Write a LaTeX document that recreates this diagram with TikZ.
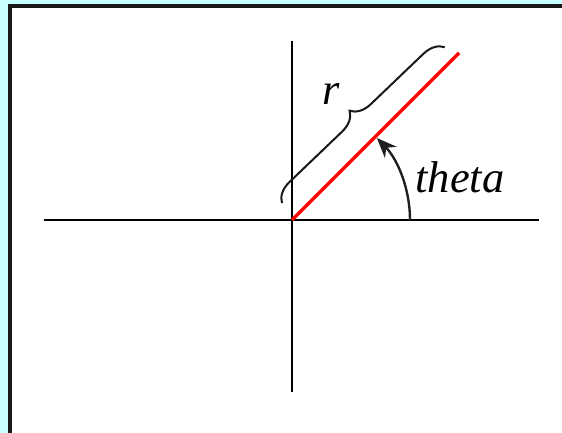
\documentclass[tikz,border=0pt]{standalone}
\usepackage{fontspec}
\setmainfont{Liberation Serif}
\usepackage{xcolor}
\usetikzlibrary{arrows.meta,decorations.pathreplacing}

\definecolor{bgcyan}{HTML}{C8FFFF}

\begin{document}
\begin{tikzpicture}[
    x=0.4pt, y=0.4pt,
    axis/.style={line width=0.95pt, black},
    radius line/.style={line width=1.4pt, red},
    angle arrow/.style={-{Stealth[length=8pt, width=6.5pt]}, line width=0.95pt, black!88},
    brace line/.style={decorate, decoration={brace, amplitude=8pt}, line width=0.8pt, black!90},
    label/.style={font=\fontsize{17.8}{20}\selectfont\itshape, inner sep=0pt}
]
\useasboundingbox (0,0) rectangle (562,433);
\fill[bgcyan] (0,0) rectangle (562,433);
% panel, open to the right and below
\fill[white] (10,0) rectangle (562,427);
\draw[draw=black!90, line width=1.4pt] (10,0) -- (10,427) -- (562,427);

% axes
\coordinate (O) at (292,213);
\coordinate (xl) at (44,213);
\coordinate (xr) at (539,213);
\coordinate (yb) at (292,41);
\coordinate (yt) at (292,392);
\draw[axis] (xl) -- (xr);
\draw[axis] (yb) -- (yt);

% radius and its brace
\coordinate (P) at (459,380);
\draw[radius line] (O) -- (P);
\coordinate (b1) at (282,230);
\coordinate (b2) at (445,386);
\draw[brace line] (b1) -- (b2);
\node[label] (r) at (331,339) {r};

% angle
\draw[angle arrow] (O) ++(118,0) arc[start angle=0, end angle=44, radius=118];
\node[label] (theta) at (460,256) {theta};
\end{tikzpicture}
\end{document}
